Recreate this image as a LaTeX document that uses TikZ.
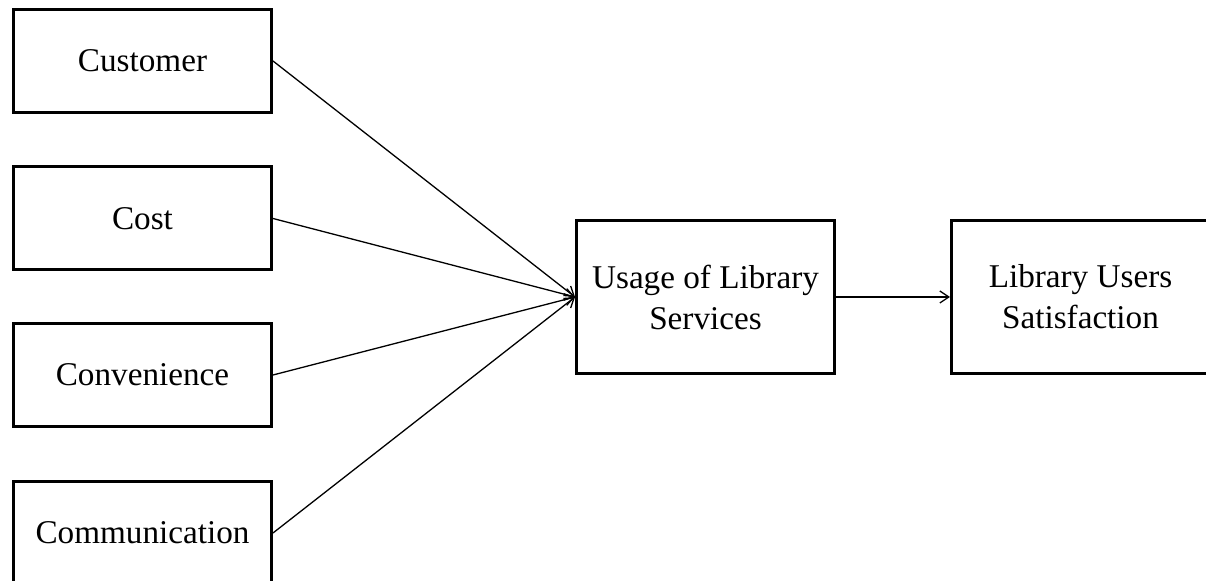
\documentclass[tikz,border=0pt]{standalone}
\usepackage{fontspec}
\setmainfont{Liberation Serif}
\usetikzlibrary{arrows.meta}

\tikzset{
  factor/.style={draw, line width=1.5pt, minimum width=129pt, minimum height=51.5pt,
                 inner sep=0pt, align=center, font=\fontsize{16.6}{20.5}\selectfont},
  outcome/.style={factor, minimum height=76.5pt},
  link/.style={line width=0.65pt, -{Straight Barb[length=4.5pt,width=6pt]}}
}

\begin{document}
\begin{tikzpicture}[x=0.5pt,y=-0.5pt]
        % fix the page to the picture size
        \useasboundingbox (0,0) rectangle (1206,581);

        % the four factors on the left
        \foreach \name/\txt/\y in {
            customer/Customer/61,
            cost/Cost/218.5,
            convenience/Convenience/375,
            communication/Communication/533}
                \node[factor] (\name) at (142.5,\y) {\txt};

        % usage and satisfaction boxes
        \node[outcome] (usage) at (705.5,297) {Usage of Library\\Services};
        \node[outcome] (satisfaction) at (1080.5,297) {Library Users\\Satisfaction};

        % draw each factor into usage
        \foreach \name in {customer,cost,convenience,communication}
                \draw[link] (\name.east) -- (usage.west);

        \draw[link] (usage.east) -- (satisfaction.west);
\end{tikzpicture}
\end{document}
